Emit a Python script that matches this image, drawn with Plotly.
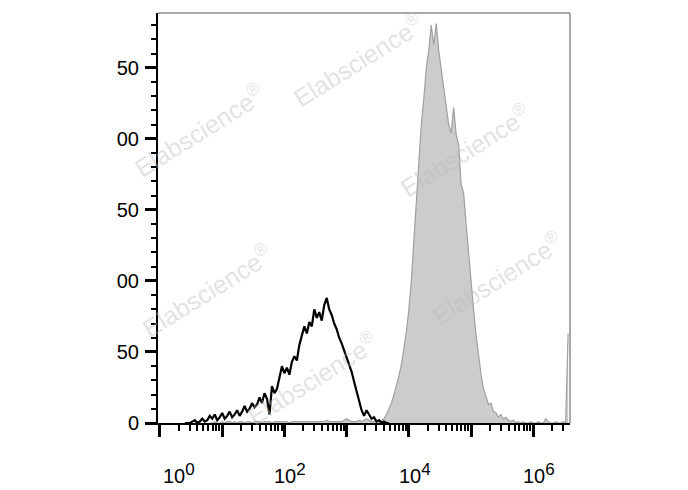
import numpy as np
import plotly.graph_objects as go

# ---------------- data ----------------
STEP = 0.04  # channel width in log10 units

# control (black outline) histogram, channels starting at 10^0.40
black_start = 0.40
black_counts = [0, 0, 0, 1, 2, 0, 1, 3, 1, 2,
                5, 3, 6, 2, 4, 7, 3, 5, 8, 4,
                6, 9, 5, 8, 12, 8, 10, 14, 11, 13,
                18, 14, 21, 17, 6, 26, 21, 24, 33, 40,
                35, 39, 34, 43, 47, 44, 55, 62, 68, 63,
                71, 68, 80, 74, 78, 72, 83, 88, 80, 76,
                70, 66, 60, 56, 51, 46, 40, 36, 29, 22,
                15, 9, 5, 9, 6, 3, 4, 1, 2, 0,
                1, 0, 0]

# stained (grey filled) histogram, channels starting at 10^0.80
gray_start = 0.80
gray_counts_low = [0, 0, 1, 0, 0, 1, 0, 1, 1, 0,
                   1, 0, 1, 1, 0, 1, 1, 0, 1, 1,
                   1, 0, 1, 1, 1, 0, 1, 1, 1, 1,
                   1, 1, 0, 1, 1, 1, 1, 1, 1, 1,
                   1, 1, 1, 1, 1, 1, 1, 2, 1, 1,
                   1, 1, 1, 1, 2, 3, 2, 1, 1, 1,
                   2, 1, 2, 3, 2]
gray_counts_peak = [1, 1, 2, 1, 2, 3, 6, 10, 14, 20,
                    26, 33, 41, 52, 64, 80, 100, 128, 158, 186,
                    210, 228, 250, 262, 280, 266, 281, 262, 248, 236,
                    224, 210, 204, 222, 203, 196, 168, 162, 140, 118,
                    98, 80, 62, 47, 34, 24, 18, 13, 14, 8,
                    7, 4, 6, 3, 4, 2, 1, 2, 0, 1]
gray_counts_high = [0, 1, 0, 0, 1, 0, 0, 1, 0, 0,
                    3, 1, 0, 0, 1, 0, 0, 1, 0, 63]
gray_counts = gray_counts_low + gray_counts_peak + gray_counts_high

y_tickvals = [0, 50, 100, 150, 200, 250]
y_ticktext = ["0", "50", "00", "50", "00", "50"]

x_label_exponents = [0, 2, 4, 6]
x_label_shift = [19, 6, 6, 6]
x_decades = [0, 1, 2, 3, 4, 5, 6]

watermark_text = "Elabscience<sup>®</sup>"
watermark_x = [0.485, 0.10, 0.745, 0.12, 0.823, 0.374]
watermark_y = [0.885, 0.715, 0.666, 0.324, 0.354, 0.11]

FONT = "Liberation Sans, Arial, sans-serif"

# ---------------- build ----------------
black_x = 10 ** (black_start + STEP * np.arange(len(black_counts)))
gray_x = 10 ** (gray_start + STEP * np.arange(len(gray_counts)))

fig = go.Figure()
fig.add_trace(go.Scatter(
    x=gray_x, y=gray_counts, mode="lines", fill="tozeroy",
    fillcolor="rgb(204,204,204)",
    line=dict(color="rgb(160,160,160)", width=1.2),
    hoverinfo="skip", showlegend=False))
fig.add_trace(go.Scatter(
    x=black_x, y=black_counts, mode="lines",
    line=dict(color="black", width=2.2),
    hoverinfo="skip", showlegend=False))

minor_x = [k * 10 ** d for d in x_decades for k in range(2, 10) if k * 10 ** d < 10 ** 6.59]

fig.update_xaxes(
    type="log", range=[-0.032, 6.59],
    showgrid=False, zeroline=False,
    showline=True, linecolor="black", linewidth=2,
    ticks="outside", ticklen=12, tickwidth=2.5, tickcolor="black",
    tickmode="array", tickvals=[10 ** d for d in x_decades],
    showticklabels=False,
    minor=dict(tickmode="array", tickvals=minor_x, ticks="outside",
               ticklen=6, tickwidth=1.5, tickcolor="black", showgrid=False),
)
fig.update_yaxes(
    range=[0, 288.5],
    showgrid=False, zeroline=False,
    showline=True, linecolor="black", linewidth=2,
    ticks="outside", ticklen=11, tickwidth=2.5, tickcolor="black",
    tickmode="array", tickvals=y_tickvals, ticktext=y_ticktext,
    tickfont=dict(family=FONT, size=20, color="black"),
    ticklabelstandoff=2,
    minor=dict(dtick=10, tick0=0, ticks="outside", ticklen=5,
               tickwidth=1.5, tickcolor="black", showgrid=False),
)

annotations = []
for e, sh in zip(x_label_exponents, x_label_shift):
    annotations.append(dict(
        x=e, xref="x", y=0, yref="paper", yanchor="top", xanchor="center",
        yshift=-35, xshift=sh, showarrow=False,
        text=f"10<sup><span style='font-size:17px'>{e}</span></sup>",
        font=dict(family=FONT, size=20, color="black")))
for wx, wy in zip(watermark_x, watermark_y):
    annotations.append(dict(
        x=wx, y=wy, xref="paper", yref="paper", showarrow=False,
        xanchor="center", yanchor="middle",
        text=watermark_text, textangle=-32,
        font=dict(family=FONT, size=25, color="rgba(185,185,185,0.42)")))

# page body has an 8px margin, so the figure is sized 8px smaller and
# the margins shifted accordingly to land the plot area where the reference has it
fig.update_layout(
    width=680, height=482,
    margin=dict(l=150, r=118, t=5, b=67),
    paper_bgcolor="white", plot_bgcolor="white",
    annotations=annotations,
    shapes=[
        dict(type="line", xref="paper", yref="paper", x0=0, x1=1, y0=1, y1=1,
             line=dict(color="rgb(140,140,140)", width=1.5)),
        dict(type="line", xref="paper", yref="paper", x0=1, x1=1, y0=0, y1=1,
             line=dict(color="rgb(140,140,140)", width=1.5)),
    ],
)

fig.write_html("out.html")
